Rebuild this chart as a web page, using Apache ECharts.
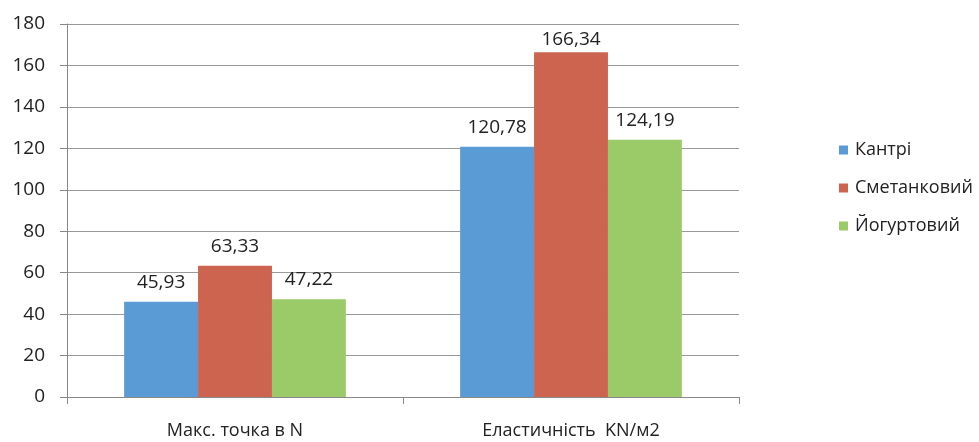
<!DOCTYPE html>
<html><head><meta charset="utf-8">
<script src="https://cdn.jsdelivr.net/npm/echarts@6/dist/echarts.min.js"></script>
<style>html,body{margin:0;padding:0;background:#fff}#c{width:979px;height:442px}</style>
</head><body><div id="c"></div>
<script>
const categories = ['Макс. точка в N', 'Еластичність  KN/м2'];
const seriesNames = ['Кантрі', 'Сметанковий', 'Йогуртовий'];
const kantri = [45.93, 120.78];
const smetankovyi = [63.33, 166.34];
const yogurtovyi = [47.22, 124.19];
const yTicks = [0, 20, 40, 60, 80, 100, 120, 140, 160, 180];
const colors = ['#5b9bd5', '#cd6450', '#9bcb69'];
const font = 'Open Sans';
const chart = echarts.init(document.getElementById('c'));
const mk = (name, data, color) => ({
  name, type: 'bar', barGap: '0%', barCategoryGap: '34%',
  data: data.map(v => v > 160 ? { value: v, label: { distance: 3 } } : v),
  itemStyle: { color },
  label: { show: true, position: 'top', distance: 10, color: '#222', fontFamily: font, fontSize: 19,
    formatter: p => p.value.toFixed(2).replace('.', ',') }
});
chart.setOption({
  animation: false,
  textStyle: { fontFamily: font },
  grid: { left: 67, right: 240, top: 24, bottom: 45 },
  legend: {
    orient: 'vertical', left: 834, top: 136, itemWidth: 9, itemHeight: 9, itemGap: 20,
    icon: 'rect', textStyle: { fontFamily: font, fontSize: 18, color: '#222', padding: [0, 0, 0, 2] },
    data: seriesNames
  },
  xAxis: {
    type: 'category', data: categories,
    axisLine: { lineStyle: { color: '#888' } },
    axisTick: { show: true, alignWithLabel: false, length: 7, lineStyle: { color: '#888' } },
    axisLabel: { color: '#222', fontFamily: font, fontSize: 18, margin: 25 }
  },
  yAxis: {
    type: 'value', min: 0, max: 180, interval: 20,
    axisLine: { show: true, lineStyle: { color: '#888' } },
    axisTick: { show: true, length: 7, lineStyle: { color: '#888' } },
    splitLine: { lineStyle: { color: '#999' } },
    axisLabel: { color: '#222', fontFamily: font, fontSize: 19, margin: 22,
      formatter: v => yTicks.includes(v) ? String(v) : '' }
  },
  series: [mk(seriesNames[0], kantri, colors[0]), mk(seriesNames[1], smetankovyi, colors[1]), mk(seriesNames[2], yogurtovyi, colors[2])]
});
</script></body></html>
